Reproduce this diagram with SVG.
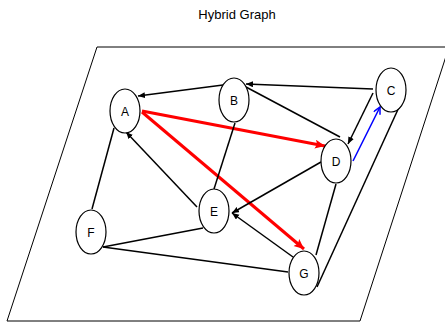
<svg xmlns="http://www.w3.org/2000/svg" width="445" height="325" viewBox="0 0 445 325">
<style>
.node ellipse{fill:#fff;stroke:#000;stroke-width:1.2}
.node text{font-family:"Liberation Sans",Arial,sans-serif;font-size:12px;text-anchor:middle;fill:#000}
.e{stroke:#000;stroke-width:1.5;fill:none}
.r{stroke:#f00;stroke-width:3;fill:none}
.b{stroke:#00f;stroke-width:1.5;fill:none}
</style>
<defs>
<marker id="ak" markerUnits="userSpaceOnUse" markerWidth="8" markerHeight="7" refX="7" refY="3" orient="auto"><path d="M0,0 L7,3 L0,6 z" fill="#000"/></marker>
<marker id="ar" markerUnits="userSpaceOnUse" markerWidth="12" markerHeight="10" refX="10" refY="4.5" orient="auto"><path d="M0,0 L10,4.5 L0,9 L2,4.5 z" fill="#f00"/></marker>
<marker id="ab" markerUnits="userSpaceOnUse" markerWidth="10" markerHeight="10" refX="8" refY="4" orient="auto"><path d="M1,0.5 L8,4 L1,7.5" fill="none" stroke="#00f" stroke-width="1.5"/></marker>
</defs>
<rect width="445" height="325" fill="#fff"/>
<text x="237" y="19" font-family="Liberation Sans,Arial,sans-serif" font-size="13" text-anchor="middle">Hybrid Graph</text>
<polygon points="97,47 449,47 360,321 7,321" fill="none" stroke="#000" stroke-width="1"/>
<g id="connectors">
<line class="e" x1="223" y1="85" x2="138" y2="96" marker-end="url(#ak)"/>
<line class="e" x1="373" y1="89" x2="246" y2="84" marker-end="url(#ak)"/>
<line class="e" x1="246" y1="87" x2="340" y2="137"/>
<line class="e" x1="373" y1="93" x2="348" y2="144" marker-end="url(#ak)"/>
<line class="b" x1="353" y1="161" x2="380" y2="107" marker-end="url(#ab)"/>
<line class="r" x1="142" y1="111" x2="325" y2="146" marker-end="url(#ar)"/>
<line class="r" x1="142" y1="112" x2="304" y2="249" marker-end="url(#ar)"/>
<line class="e" x1="197" y1="207" x2="126" y2="132" marker-end="url(#ak)"/>
<line class="e" x1="235" y1="123" x2="214" y2="189"/>
<line class="e" x1="321" y1="162" x2="232" y2="213" marker-end="url(#ak)"/>
<line class="e" x1="293" y1="257" x2="232" y2="213" marker-end="url(#ak)"/>
<line class="e" x1="92" y1="209" x2="114" y2="128"/>
<line class="e" x1="103" y1="247" x2="203" y2="228"/>
<line class="e" x1="103" y1="247" x2="288" y2="272"/>
<line class="e" x1="316" y1="255" x2="336" y2="184"/>
<line class="e" x1="317" y1="287" x2="400" y2="105"/>
</g>
<g id="A" class="node"><ellipse cx="125" cy="111" rx="15" ry="22"/><text x="125" y="115.5">A</text></g>
<g id="B" class="node"><ellipse cx="234" cy="100" rx="15" ry="22"/><text x="234" y="104.5">B</text></g>
<g id="C" class="node"><ellipse cx="391" cy="90" rx="15" ry="22"/><text x="391" y="94.5">C</text></g>
<g id="D" class="node"><ellipse cx="336" cy="161" rx="15" ry="22"/><text x="336" y="165.5">D</text></g>
<g id="E" class="node"><ellipse cx="214" cy="211" rx="15" ry="22"/><text x="214" y="215.5">E</text></g>
<g id="F" class="node"><ellipse cx="91" cy="232" rx="15" ry="22"/><text x="91" y="236.5">F</text></g>
<g id="G" class="node"><ellipse cx="304" cy="273" rx="15" ry="22"/><text x="304" y="277.5">G</text></g>
</svg>
